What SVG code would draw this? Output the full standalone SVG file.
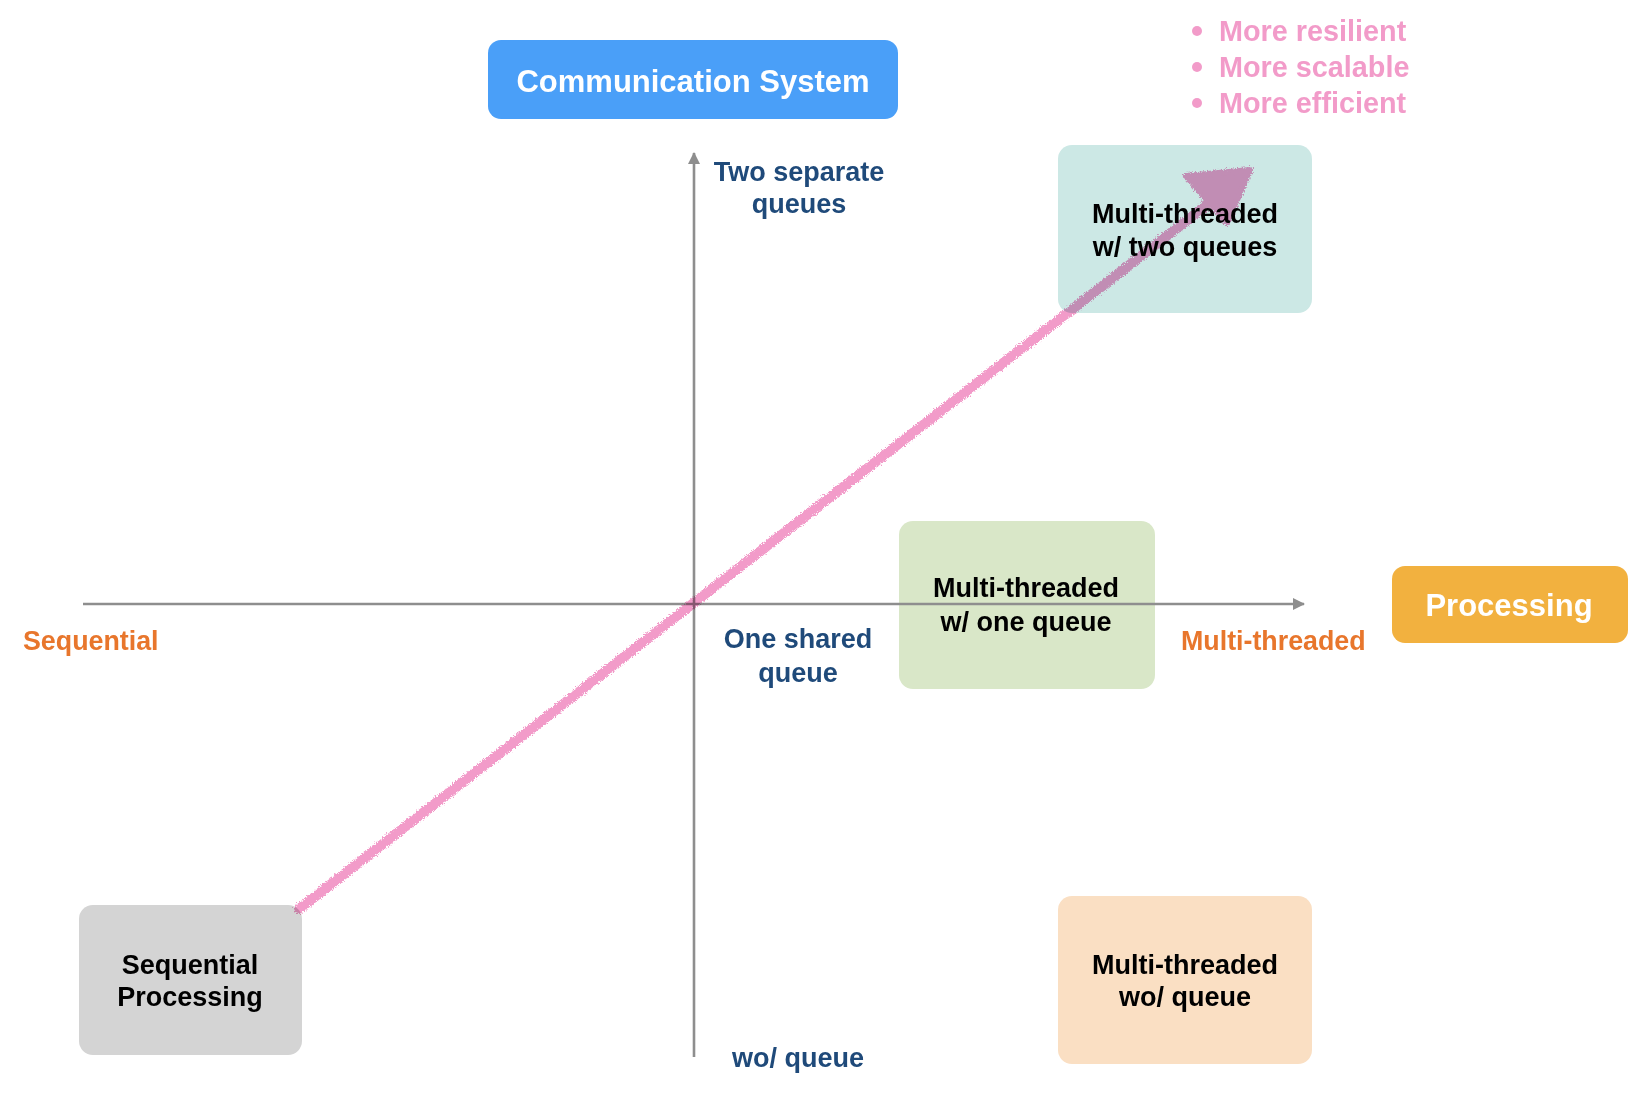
<svg xmlns="http://www.w3.org/2000/svg" width="1652" height="1100" viewBox="0 0 1652 1100">
<defs>
<style>
text{font-family:"Liberation Sans",Arial,sans-serif;font-weight:bold;}
.node{font-size:27px;fill:#000;text-anchor:middle;}
.title{font-size:31px;fill:#fff;text-anchor:middle;}
.axislbl{font-size:27px;fill:#1F4A7A;text-anchor:middle;}
.orange{font-size:26.8px;fill:#E8762C;}
.pink{font-size:28.8px;fill:#F29BC9;}
.axis{stroke:#8E8E8E;stroke-width:2.6;fill:none;}
</style>
<marker id="ah" viewBox="0 0 12 12" refX="11" refY="6" markerWidth="12" markerHeight="12" markerUnits="userSpaceOnUse" orient="auto">
<path d="M0,0 L12,6 L0,12 Z" fill="#8E8E8E"/>
</marker>
<filter id="crayon" x="-5%" y="-5%" width="110%" height="110%">
<feTurbulence type="fractalNoise" baseFrequency="0.9" numOctaves="2" seed="3" result="n"/>
<feDisplacementMap in="SourceGraphic" in2="n" scale="6" xChannelSelector="R" yChannelSelector="G"/>
</filter>
</defs>
<rect width="1652" height="1100" fill="#fff"/>

<g id="comm-system">
<rect x="488" y="40" width="410" height="79" rx="13" fill="#4A9FF8"/>
<text class="title" x="693" y="92">Communication System</text>
</g>
<g id="processing">
<rect x="1392" y="566" width="236" height="77" rx="13" fill="#F2B13F"/>
<text class="title" x="1509" y="616">Processing</text>
</g>
<g id="benefits">
<circle cx="1197" cy="31" r="5" fill="#F29BC9"/>
<circle cx="1197" cy="67" r="5" fill="#F29BC9"/>
<circle cx="1197" cy="103" r="5" fill="#F29BC9"/>
<text class="pink" x="1219" y="41">More resilient</text>
<text class="pink" x="1219" y="77">More scalable</text>
<text class="pink" x="1219" y="113">More efficient</text>
</g>
<g id="mt-two-queues">
<rect x="1058" y="145" width="254" height="168" rx="14" fill="#CCE8E5"/>
<text class="node" x="1185" y="223">Multi-threaded</text>
<text class="node" x="1185" y="256">w/ two queues</text>
</g>
<g id="mt-one-queue">
<rect x="899" y="521" width="256" height="168" rx="14" fill="#D9E7C8"/>
<text class="node" x="1026" y="597">Multi-threaded</text>
<text class="node" x="1026" y="631">w/ one queue</text>
</g>
<g id="mt-no-queue">
<rect x="1058" y="896" width="254" height="168" rx="14" fill="#FADFC3"/>
<text class="node" x="1185" y="974">Multi-threaded</text>
<text class="node" x="1185" y="1006">wo/ queue</text>
</g>
<g id="sequential-processing">
<rect x="79" y="905" width="223" height="150" rx="14" fill="#D4D4D4"/>
<text class="node" x="190" y="974">Sequential</text>
<text class="node" x="190" y="1006">Processing</text>
</g>

<g id="labels">
<text class="axislbl" x="799" y="181">Two separate</text>
<text class="axislbl" x="799" y="213">queues</text>
<text class="axislbl" x="798" y="648">One shared</text>
<text class="axislbl" x="798" y="682">queue</text>
<text class="axislbl" x="798" y="1067">wo/ queue</text>
<text class="orange" x="23" y="650">Sequential</text>
<text class="orange" x="1181" y="650">Multi-threaded</text>
</g>

<g id="connectors">
<line class="axis" x1="694" y1="1057" x2="694" y2="153" marker-end="url(#ah)"/>
<line class="axis" x1="83" y1="604" x2="1304" y2="604" marker-end="url(#ah)"/>
<g style="mix-blend-mode:multiply" filter="url(#crayon)">
<line x1="299" y1="909" x2="1217" y2="197" stroke="#F29BC9" stroke-width="10" stroke-linecap="round"/>
<path d="M1186,176 L1250,170 L1227,223 Z" fill="#F29BC9" stroke="#F29BC9" stroke-width="6" stroke-linejoin="round"/>
</g>
</g>
</svg>
